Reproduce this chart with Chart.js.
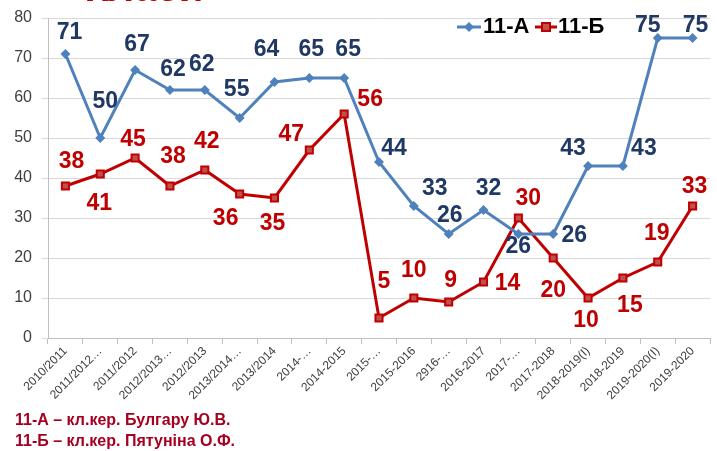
<!DOCTYPE html>
<html>
<head>
<meta charset="utf-8">
<script src="https://cdn.jsdelivr.net/npm/chart.js@4"></script>
<style>
    body { margin: 0; background: #fff; }
    #wrap { position: relative; width: 717px; height: 451px; overflow: hidden; }
    #title { position: absolute; left: 60px; top: -35px; font: bold 40px "Liberation Sans", Arial, sans-serif; color: #C00000; }
    .note { position: absolute; left: 15px; font: bold 16px "Liberation Sans", Arial, sans-serif; color: #A50021; }
</style>
</head>
<body>
<div id="wrap">
    <canvas id="chart" width="717" height="451"></canvas>
    <div id="title">- Класи</div>
    <div class="note" style="top:411px">11-А – кл.кер. Булгару Ю.В.</div>
    <div class="note" style="top:432px">11-Б – кл.кер. Пятуніна О.Ф.</div>
</div>
<script>
// Chart data
const years = ['2010/2011', '2011/2012…', '2011/2012', '2012/2013…', '2012/2013', '2013/2014…', '2013/2014',
    '2014-…', '2014-2015', '2015-…', '2015-2016', '2916-…', '2016-2017', '2017-…', '2017-2018',
    '2018-2019(І)', '2018-2019', '2019-2020(І)', '2019-2020'];
const classA = [71, 50, 67, 62, 62, 55, 64, 65, 65, 44, 33, 26, 32, 26, 26, 43, 43, 75, 75];
const classB = [38, 41, 45, 38, 42, 36, 35, 47, 56, 5, 10, 9, 14, 30, 20, 10, 15, 19, 33];
const yTicks = [0, 10, 20, 30, 40, 50, 60, 70, 80];

// where each value label sits relative to its point (px)
const labelShiftA = [[4, -21], [5, -36], [2, -25], [3, -20], [-3, -25], [-3, -28], [-8, -32], [2, -28], [4, -28],
    [15, -13], [21, -17], [1, -18], [5, -21], [0, 13], [21, 2], [-15, -17], [21, -17], [-10, -12], [3, -12]];
const labelShiftB = [[6, -24], [-1, 30], [-2, -18], [3, -29], [2, -28], [-14, 25], [-2, 26], [-18, -15], [26, -14],
    [5, -36], [0, -27], [2, -21], [24, 2], [10, -19], [0, 33], [-2, 23], [7, 28], [-1, -28], [2, -19]];

const FONT = '"Liberation Sans", Arial, sans-serif';

const valueLabels = {
    id: 'valueLabels',
    afterDatasetsDraw(chart) {
        const ctx = chart.ctx;
        const shifts = [labelShiftA, labelShiftB];
        const colors = ['#1F3864', '#C00000'];
        ctx.save();
        ctx.font = 'bold 23px ' + FONT;
        ctx.textAlign = 'center';
        ctx.textBaseline = 'middle';
        chart.data.datasets.forEach((ds, i) => {
            ctx.fillStyle = colors[i];
            chart.getDatasetMeta(i).data.forEach((pt, j) => {
                ctx.fillText(ds.data[j], pt.x + shifts[i][j][0], pt.y + shifts[i][j][1]);
            });
        });
        ctx.restore();
    }
};

const lineLegend = {
    id: 'lineLegend',
    afterDraw(chart) {
        const ctx = chart.ctx;
        const y = 27;
        ctx.save();
        ctx.font = 'bold 22px ' + FONT;
        ctx.textBaseline = 'middle';
        // 11-А
        ctx.strokeStyle = '#4F81BD';
        ctx.lineWidth = 3;
        ctx.beginPath(); ctx.moveTo(457, y); ctx.lineTo(481, y); ctx.stroke();
        ctx.fillStyle = '#4F81BD';
        ctx.beginPath(); ctx.moveTo(469, y - 5); ctx.lineTo(474, y); ctx.lineTo(469, y + 5); ctx.lineTo(464, y); ctx.fill();
        ctx.fillStyle = '#000';
        ctx.fillText('11-А', 483, y);
        // 11-Б
        ctx.strokeStyle = '#C00000';
        ctx.beginPath(); ctx.moveTo(535, y); ctx.lineTo(557, y); ctx.stroke();
        ctx.fillStyle = '#C0504D';
        ctx.fillRect(542, y - 4, 8, 8);
        ctx.lineWidth = 2;
        ctx.strokeRect(542, y - 4, 8, 8);
        ctx.fillStyle = '#000';
        ctx.fillText('11-Б', 558, y);
        ctx.restore();
    }
};

new Chart(document.getElementById('chart'), {
    type: 'line',
    data: {
        labels: years,
        datasets: [{
            label: '11-А',
            data: classA,
            borderColor: '#4F81BD',
            backgroundColor: '#4F81BD',
            borderWidth: 3,
            pointStyle: 'rectRot',
            pointRadius: 5,
            pointBorderWidth: 0,
            tension: 0
        }, {
            label: '11-Б',
            data: classB,
            borderColor: '#C00000',
            backgroundColor: '#C0504D',
            borderWidth: 3,
            pointStyle: 'rect',
            pointRadius: 5,
            pointBorderColor: '#C00000',
            pointBorderWidth: 2,
            tension: 0
        }]
    },
    options: {
        responsive: false,
        animation: false,
        layout: { padding: { top: 14, right: 1, left: 0, bottom: 0 } },
        plugins: {
            legend: { display: false },
            tooltip: { enabled: false }
        },
        scales: {
            x: {
                offset: true,
                grid: { offset: true, drawOnChartArea: false, tickLength: 6, color: '#BFBFBF' },
                border: { color: '#BFBFBF' },
                ticks: {
                    autoSkip: false, minRotation: 45, maxRotation: 45,
                    color: '#404040', font: { family: FONT, size: 12 }, padding: 0
                },
                afterFit(scale) { scale.height = 113; }
            },
            y: {
                min: 0, max: 80,
                afterBuildTicks(scale) { scale.ticks = yTicks.map(v => ({ value: v })); },
                grid: { color: '#D9D9D9', tickLength: 6 },
                border: { color: '#BFBFBF' },
                ticks: { color: '#404040', font: { family: FONT, size: 16, lineHeight: 1 }, padding: 10 },
                afterFit(scale) { scale.width = 48; }
            }
        }
    },
    plugins: [valueLabels, lineLegend]
});
</script>
</body>
</html>
